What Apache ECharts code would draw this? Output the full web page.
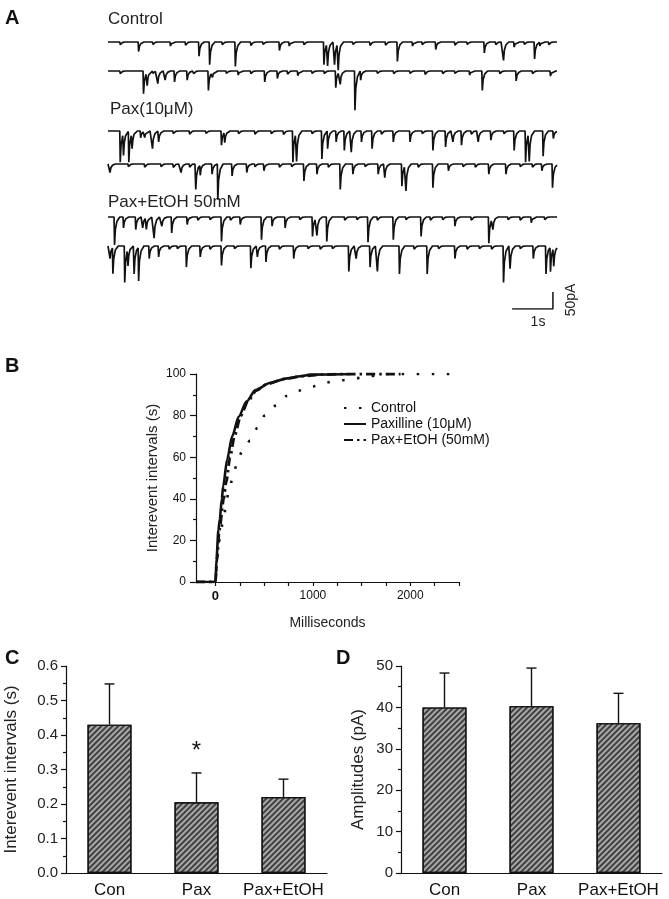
<!DOCTYPE html>
<html><head><meta charset="utf-8">
<script src="https://cdn.jsdelivr.net/npm/echarts@6/dist/echarts.min.js"></script>
<style>html,body{margin:0;padding:0;background:#fff}#c{width:669px;height:899px}</style>
</head><body><div id="c"></div>
<script>
// ---------- Panel A: sEPSC events [time (s), amplitude (pA)] ----------
const traceDuration = 11;
const traceLabels = ['Control', 'Pax(10\u03bcM)', 'Pax+EtOH 50mM'];
const controlTrace1 = [[0.3,8],[0.75,28],[1.1,7],[1.53,12],[1.9,9],[2.23,42],[2.49,67],[2.8,8],[3.12,72],[3.5,10],[3.8,7],[4.2,25],[4.44,12],[4.8,8],[5.29,67],[5.38,65],[5.55,67],[5.64,77],[6.0,7],[6.42,10],[6.8,9],[7.09,57],[7.46,12],[7.7,8],[8.03,22],[8.5,9],[8.8,7],[9.22,32],[9.5,8],[9.69,54],[9.95,15],[10.2,7],[10.45,50],[10.58,12],[10.8,8]];
const controlTrace2 = [[0.3,8],[0.87,67],[0.96,37],[1.1,7],[1.22,37],[1.4,27],[1.63,32],[1.94,27],[2.1,8],[2.46,57],[2.56,15],[2.9,7],[3.19,12],[3.5,8],[3.84,32],[4.15,22],[4.4,9],[4.65,14],[5.0,7],[5.3,8],[5.58,49],[5.69,37],[6.05,115],[6.19,27],[6.6,7],[7.0,8],[7.4,7],[7.77,10],[8.2,8],[8.5,7],[8.86,12],[9.17,57],[9.6,8],[10.0,29],[10.4,8],[10.84,15]];
const paxTrace1 = [[0.3,92],[0.38,62],[0.51,92],[0.59,42],[0.8,20],[0.9,18],[1.09,52],[1.24,32],[1.6,8],[2.0,9],[2.4,7],[2.78,42],[2.86,30],[3.2,8],[3.6,9],[4.0,8],[4.3,10],[4.53,92],[4.62,82],[5.0,8],[5.24,82],[5.38,52],[5.59,32],[5.79,57],[5.96,62],[6.21,32],[6.47,52],[6.7,9],[6.99,32],[7.4,32],[7.7,8],[7.96,57],[8.27,47],[8.45,32],[8.66,42],[8.9,9],[9.07,32],[9.38,27],[9.7,8],[9.95,57],[10.23,92],[10.32,82],[10.66,74],[10.91,22]];
const paxTrace2 = [[0.05,25],[0.5,8],[0.9,9],[1.3,8],[1.6,10],[1.79,25],[2.0,9],[2.15,75],[2.26,30],[2.55,30],[2.69,105],[3.04,35],[3.4,25],[3.6,8],[3.82,20],[4.2,9],[4.5,8],[4.8,50],[5.12,30],[5.4,9],[5.69,75],[6.0,30],[6.3,8],[6.62,30],[6.78,40],[7.2,65],[7.3,75],[7.6,9],[7.96,70],[8.34,20],[8.7,8],[9.0,9],[9.33,30],[9.75,30],[10.1,8],[10.4,9],[10.63,20],[10.89,70]];
const etohTrace1 = [[0.16,82],[0.38,32],[0.68,37],[0.85,32],[0.94,34],[1.13,62],[1.32,27],[1.56,47],[1.94,22],[2.2,9],[2.5,8],[2.78,72],[3.0,9],[3.24,22],[3.76,67],[4.02,27],[4.34,32],[4.7,8],[5.01,57],[5.12,52],[5.36,72],[5.8,9],[6.1,8],[6.37,74],[6.6,9],[6.99,67],[7.3,8],[7.67,57],[7.9,9],[8.2,8],[8.5,27],[8.9,9],[9.33,77],[9.43,32],[9.8,8],[10.1,9],[10.37,17],[10.7,8]];
const etohTrace2 = [[0.05,37],[0.12,77],[0.41,107],[0.49,47],[0.64,82],[0.75,99],[1.01,37],[1.24,32],[1.5,9],[1.7,8],[1.92,62],[2.26,32],[2.5,9],[2.78,57],[3.1,8],[3.5,65],[3.66,32],[3.87,47],[4.2,9],[4.55,37],[4.9,8],[5.2,9],[5.5,8],[5.9,75],[6.08,37],[6.42,62],[6.6,75],[7.14,82],[7.5,9],[7.82,82],[8.1,8],[8.5,37],[8.8,9],[9.1,8],[9.4,9],[9.69,107],[9.85,67],[10.1,8],[10.42,37],[10.73,82],[10.84,72],[10.92,52]];
const scaleBarTime = [9.9, 10.9];   // 1 s
const scaleBarAmp = [0, 50];        // 50 pA

// ---------- Panel B: cumulative distributions [ms, %] ----------
const cdfControl = [[-200,0],[0,0],[20,13.6],[44,20.7],[72,27.9],[103,35],[130,42.3],[171,49],[215,56],[270,62.5],[356,68],[428,74],[503,80],[620,84.8],[730,89.4],[856,92],[1000,94],[1147,96],[1297,97],[1449,98],[1590,99],[1744,100],[2400,100]];
const cdfPax = [[-200,0],[0,0],[10,10.6],[30,25],[44,30],[65,40],[79,46],[120,59],[171,70],[239,79.5],[318,86.7],[410,92.3],[564,95.8],[735,97.9],[872,98.9],[974,99.7],[1385,100]];
const cdfPaxEtoh = [[-200,0],[0,0],[14,10],[40,25],[85,40],[110,48],[150,60],[195,70],[260,80],[335,87],[420,92],[520,95],[700,97.5],[900,99],[1100,99.7],[1300,100],[1900,100]];
const cdfNames = ['Control', 'Paxilline (10\u03bcM)', 'Pax+EtOH (50mM)'];
const cdfXTicks = [0,250,500,750,1000,1250,1500,1750,2000,2250,2500];
const cdfXLabels = [0,1000,2000];

// ---------- Panels C & D: bars ----------
const categories = ['Con', 'Pax', 'Pax+EtOH'];
const intervalMean = [0.43, 0.205, 0.22];
const intervalErr = [0.118, 0.085, 0.052];
const intervalSig = ['', '*', ''];
const amplitudeMean = [40.0, 40.3, 36.2];
const amplitudeErr = [8.3, 9.2, 7.2];

// ---------- build ----------
const FONT = 'Liberation Sans, Arial, sans-serif';
const INK = '#111';
const kDt = [-0.012, 0, 0.02, 0.06, 0.13];
const kV = [0, 1, 0.45, 0.15, 0];
function buildTrace(events) {
  const times = new Set([0, traceDuration]);
  events.forEach(([t]) => kDt.forEach(d => { const x = +(t + d).toFixed(4); if (x >= 0 && x <= traceDuration) times.add(x); }));
  const ts = [...times].sort((a, b) => a - b);
  return ts.map(x => {
    let v = 0;
    events.forEach(([t, a]) => {
      const d = x - t;
      if (d > kDt[0] && d < kDt[4]) {
        for (let k = 0; k < 4; k++) {
          if (d >= kDt[k] && d <= kDt[k + 1]) {
            const f = (d - kDt[k]) / (kDt[k + 1] - kDt[k]);
            v += a * (kV[k] + (kV[k + 1] - kV[k]) * f); break;
          }
        }
      }
    });
    return [x, -v];
  });
}

const traces = [controlTrace1, controlTrace2, paxTrace1, paxTrace2, etohTrace1, etohTrace2];
const traceBaselines = [42, 71, 131, 164, 217, 246];
const pxPerPA = 1 / 2.94;
const grid = [], xAxis = [], yAxis = [], series = [];
traces.forEach((ev, i) => {
  const top = traceBaselines[i] - 10 * pxPerPA;
  grid.push({ left: 108, width: 449, top: top, height: 130 * pxPerPA });
  xAxis.push({ type: 'value', gridIndex: i, min: 0, max: traceDuration, show: false });
  yAxis.push({ type: 'value', gridIndex: i, min: -120, max: 10, show: false });
  series.push({ type: 'line', xAxisIndex: i, yAxisIndex: i, data: buildTrace(ev), symbol: 'none', clip: false,
    lineStyle: { color: INK, width: 1.7 }, silent: true, animation: false });
});
// scale bar grid (6)
grid.push({ left: 108, width: 449, top: 309 - 60 * pxPerPA, height: 60 * pxPerPA });
xAxis.push({ type: 'value', gridIndex: 6, min: 0, max: traceDuration, show: false });
yAxis.push({ type: 'value', gridIndex: 6, min: 0, max: 60, show: false });
series.push({ type: 'line', xAxisIndex: 6, yAxisIndex: 6, symbol: 'none', animation: false,
  data: [[scaleBarTime[0], scaleBarAmp[0]], [scaleBarTime[1], scaleBarAmp[0]], [scaleBarTime[1], scaleBarAmp[1]]],
  lineStyle: { color: INK, width: 1.5 } });

// Panel B grid (7)
grid.push({ left: 196, top: 374, width: 263, height: 208 });
xAxis.push({ type: 'value', gridIndex: 7, min: -200, max: 2500,
  axisLine: { show: true, onZero: false, lineStyle: { color: INK, width: 1.2 } },
  axisTick: { show: true, customValues: cdfXTicks, length: 4, lineStyle: { color: INK, width: 1.2 } },
  axisLabel: { customValues: cdfXLabels, fontFamily: FONT, fontSize: 12, color: INK, margin: 8,
    formatter: v => v === 0 ? '{b|0}' : String(v), rich: { b: { fontWeight: 'bold', fontSize: 13, fontFamily: FONT, color: INK } } },
  splitLine: { show: false },
  name: 'Milliseconds', nameLocation: 'middle', nameGap: 34, nameTextStyle: { fontFamily: FONT, fontSize: 14, color: '#222' } });
yAxis.push({ type: 'value', gridIndex: 7, min: 0, max: 100, interval: 20,
  axisLine: { show: true, onZero: false, lineStyle: { color: INK, width: 1.2 } },
  axisTick: { show: true, length: 6, lineStyle: { color: INK, width: 1.2 } },
  minorTick: { show: true, splitNumber: 2, length: 3, lineStyle: { color: INK, width: 1.2 } },
  axisLabel: { fontFamily: FONT, fontSize: 12, color: INK, margin: 10 },
  splitLine: { show: false },
  name: 'Interevent intervals (s)', nameLocation: 'middle', nameGap: 36, nameTextStyle: { fontFamily: FONT, fontSize: 15, color: '#222' } });
const cdfStyles = [
  { color: INK, width: 2.6, type: [2.5, 12.5] },
  { color: INK, width: 2.6, type: 'solid' },
  { color: INK, width: 2.8, type: [9, 4, 2.5, 4] }
];
[cdfControl, cdfPax, cdfPaxEtoh].forEach((d, i) => {
  series.push({ type: 'line', name: cdfNames[i], xAxisIndex: 7, yAxisIndex: 7, data: d, symbol: 'none', showSymbol: false,
    smooth: 0.25, smoothMonotone: 'x', lineStyle: cdfStyles[i], itemStyle: { color: INK }, z: i === 1 ? 4 : 3, animation: false });
});

// Panels C (8) and D (9)
function barAxes(idx, left, max, interval, fmt, name, nameGap) {
  grid.push({ left: left, top: 666, width: 261, height: 208 });
  xAxis.push({ type: 'category', gridIndex: idx, data: categories,
    axisLine: { show: true, lineStyle: { color: INK, width: 1.2 } }, axisTick: { show: false },
    axisLabel: { interval: 0, hideOverlap: false, fontFamily: FONT, fontSize: 17, color: INK, margin: 9 } });
  yAxis.push({ type: 'value', gridIndex: idx, min: 0, max: max, interval: interval,
    axisLine: { show: true, lineStyle: { color: INK, width: 1.2 } },
    axisTick: { show: true, length: 5, lineStyle: { color: INK, width: 1.2 } },
    minorTick: { show: true, splitNumber: 2, length: 3, lineStyle: { color: INK, width: 1.2 } },
    axisLabel: { fontFamily: FONT, fontSize: 15, color: '#222', margin: 8, formatter: fmt },
    splitLine: { show: false },
    name: name, nameLocation: 'middle', nameGap: nameGap, nameTextStyle: { fontFamily: FONT, fontSize: 17, color: '#222' } });
}
barAxes(8, 66, 0.6, 0.1, v => v.toFixed(1), 'Interevent intervals (s)', 46);
barAxes(9, 401, 50, 10, v => String(v), 'Amplitudes (pA)', 34);

const hatch = { symbol: 'rect', symbolSize: 1, dashArrayX: [1, 0], dashArrayY: [1.2, 1.6], rotation: -Math.PI / 4, color: 'rgba(30,30,30,0.75)' };
function barSeries(idx, means) {
  return { type: 'bar', xAxisIndex: idx, yAxisIndex: idx, data: means, barWidth: 44, animation: false,
    itemStyle: { color: '#a8a8a8', borderColor: INK, borderWidth: 1.2, decal: hatch } };
}
function errSeries(idx, means, errs, marks) {
  return { type: 'custom', xAxisIndex: idx, yAxisIndex: idx, z: 5, animation: false,
    data: means.map((m, i) => [i, m, m + errs[i], marks ? marks[i] : '']),
    renderItem: (params, api) => {
      const base = api.coord([api.value(0), api.value(1)]);
      const top = api.coord([api.value(0), api.value(2)]);
      const hw = 5;
      const children = [
        { type: 'line', shape: { x1: base[0], y1: base[1], x2: top[0], y2: top[1] }, style: { stroke: INK, lineWidth: 1.4 } },
        { type: 'line', shape: { x1: top[0] - hw, y1: top[1], x2: top[0] + hw, y2: top[1] }, style: { stroke: INK, lineWidth: 1.4 } }
      ];
      const mark = api.value(3);
      if (mark) children.push({ type: 'text', x: top[0], y: top[1] - 22,
        style: { text: mark, fontFamily: FONT, fontSize: 24, fill: INK, align: 'center', verticalAlign: 'middle' } });
      return { type: 'group', children: children };
    } };
}
series.push(barSeries(8, intervalMean), errSeries(8, intervalMean, intervalErr, intervalSig));
series.push(barSeries(9, amplitudeMean), errSeries(9, amplitudeMean, amplitudeErr, null));

function txt(x, y, s, size, opts) {
  return Object.assign({ type: 'text', x: x, y: y, style: Object.assign({ text: s, fontFamily: FONT, fontSize: size, fill: INK, verticalAlign: 'middle' }, opts || {}) });
}
const graphic = [
  txt(5, 18, 'A', 20, { fontWeight: 'bold' }),
  txt(5, 366, 'B', 20, { fontWeight: 'bold' }),
  txt(5, 658, 'C', 20, { fontWeight: 'bold' }),
  txt(336, 658, 'D', 20, { fontWeight: 'bold' }),
  txt(108, 19, traceLabels[0], 17, { fill: '#222' }),
  txt(110, 109, traceLabels[1], 17, { fill: '#222' }),
  txt(108, 202, traceLabels[2], 17, { fill: '#222' }),
  txt(538, 322, '1s', 14, { align: 'center', fill: '#222' }),
  { type: 'text', x: 571, y: 300, rotation: Math.PI / 2, style: { text: '50pA', fontFamily: FONT, fontSize: 14, fill: '#222', align: 'center', verticalAlign: 'middle' } }
];

const chart = echarts.init(document.getElementById('c'), null, { renderer: 'canvas' });
chart.setOption({
  animation: false,
  backgroundColor: '#fff',
  grid: grid, xAxis: xAxis, yAxis: yAxis, series: series, graphic: graphic,
  legend: { data: cdfNames, orient: 'vertical', left: 338, top: 396, itemGap: 2, itemWidth: 22, itemHeight: 12,
    selectedMode: false, itemStyle: { opacity: 0 }, textStyle: { fontFamily: FONT, fontSize: 14, color: INK } }
});
</script></body></html>
